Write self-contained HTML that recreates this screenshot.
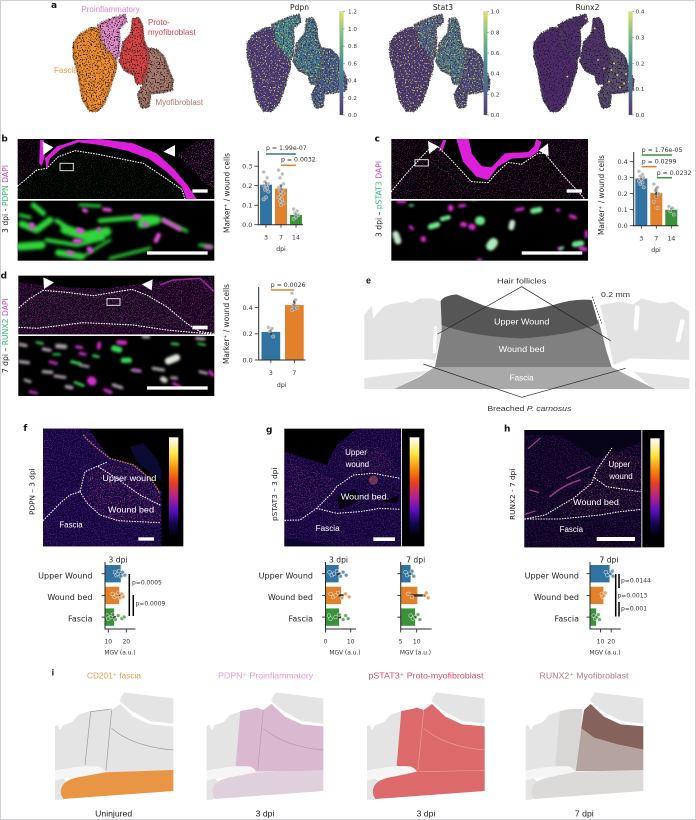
<!DOCTYPE html>
<html lang="en">
<head>
<meta charset="utf-8">
<title>Wound fibroblast figure</title>
<style>
html,body{margin:0;padding:0;background:#fff;width:696px;height:820px;overflow:hidden}
svg{display:block}
text{font-family:"DejaVu Sans","Liberation Sans",sans-serif;fill:#333}
.lib text,text.lib{font-family:"Liberation Sans",sans-serif}
.wl{fill:none;stroke:#fff;stroke-linecap:round}
</style>
</head>
<body>
<svg id="figure" xmlns="http://www.w3.org/2000/svg" width="696" height="820" viewBox="0 0 696 820">
<defs>
<path id="cProinf" d="M295 75L340 55L375 45L378 65L355 85L358 120L355 165L345 182L325 165L305 130L300 90Z"/>
<path id="cFascia" d="M275 85L297 85L300 115L302 130L332 165L347 185L347 205L337 235L327 270L312 310L292 332L270 332L250 300L240 250L235 215L222 170L222 130L240 105Z"/>
<path id="cMyo" d="M440 145L470 150L490 170L505 210L517 240L515 270L490 275L450 280L445 320L425 322L415 285L430 255L440 210L445 170Z"/>
<path id="cProto" d="M400 58L415 55L425 75L430 120L440 145L445 170L440 210L425 250L410 250L405 225L375 210L360 185L370 130L395 100Z"/>
<linearGradient id="viridis" x1="0" y1="1" x2="0" y2="0">
<stop offset="0" stop-color="#54386f"/><stop offset=".25" stop-color="#4f6a8f"/><stop offset=".5" stop-color="#3f8f95"/><stop offset=".75" stop-color="#6cbf80"/><stop offset="1" stop-color="#e8e05c"/>
</linearGradient>
<linearGradient id="hot" x1="0" y1="1" x2="0" y2="0">
<stop offset="0" stop-color="#000"/><stop offset=".14" stop-color="#14064f"/><stop offset=".27" stop-color="#5a0fc0"/><stop offset=".4" stop-color="#b0208f"/><stop offset=".55" stop-color="#e8401f"/><stop offset=".68" stop-color="#f88a0a"/><stop offset=".83" stop-color="#fde640"/><stop offset="1" stop-color="#fff"/>
</linearGradient>
<filter id="umapDots" x="-5%" y="-5%" width="110%" height="110%" color-interpolation-filters="sRGB">
<feTurbulence type="fractalNoise" baseFrequency=".26" numOctaves="1" seed="4" result="n"/>
<feDisplacementMap in="SourceGraphic" in2="n" scale="7" result="rough"/>
<feColorMatrix in="n" type="matrix" values="0 0 0 0 .12 0 0 0 0 .1 0 0 0 0 .1 12 0 0 0 -6.6" result="d"/>
<feComposite in="d" in2="rough" operator="in" result="dd"/>
<feMerge><feMergeNode in="rough"/><feMergeNode in="dd"/></feMerge>
</filter>
<filter id="umapExpr" x="-5%" y="-5%" width="110%" height="110%" color-interpolation-filters="sRGB">
<feTurbulence type="fractalNoise" baseFrequency=".26" numOctaves="1" seed="9" result="n"/>
<feDisplacementMap in="SourceGraphic" in2="n" scale="7" result="rough"/>
<feColorMatrix in="n" type="matrix" values="0 0 0 0 .22 0 0 0 0 .18 0 0 0 0 .34 12 0 0 0 -6.2" result="d"/>
<feComposite in="d" in2="rough" operator="in" result="dd"/>
<feColorMatrix in="n" type="matrix" values="0 0 0 0 .9 0 0 0 0 .85 0 0 0 0 .35 0 14 0 0 -8.6" result="y"/>
<feComposite in="y" in2="rough" operator="in" result="yy"/>
<feMerge><feMergeNode in="rough"/><feMergeNode in="dd"/><feMergeNode in="yy"/></feMerge>
</filter>
<filter id="spMagenta" x="0" y="0" width="100%" height="100%" color-interpolation-filters="sRGB">
<feTurbulence type="fractalNoise" baseFrequency=".3" numOctaves="2" seed="2"/>
<feColorMatrix type="matrix" values="0 0 0 0 .72 0 0 0 0 .16 0 0 0 0 .72 9 0 0 0 -5"/>
</filter>
<filter id="spGreen" x="0" y="0" width="100%" height="100%" color-interpolation-filters="sRGB">
<feTurbulence type="fractalNoise" baseFrequency=".33" numOctaves="2" seed="6"/>
<feColorMatrix type="matrix" values="0 0 0 0 .2 0 0 0 0 .62 0 0 0 0 .3 9 0 0 0 -5.2"/>
</filter>
<filter id="spPurple" x="0" y="0" width="100%" height="100%" color-interpolation-filters="sRGB">
<feTurbulence type="fractalNoise" baseFrequency=".28" numOctaves="2" seed="11"/>
<feColorMatrix type="matrix" values="0 0 0 0 .48 0 0 0 0 .12 0 0 0 0 .72 8 0 0 0 -4.1"/>
</filter>
<filter id="spHot" x="0" y="0" width="100%" height="100%" color-interpolation-filters="sRGB">
<feTurbulence type="fractalNoise" baseFrequency=".3" numOctaves="2" seed="17"/>
<feColorMatrix type="matrix" values="0 0 0 0 .92 0 0 0 0 .36 0 0 0 0 .42 9 0 0 0 -5.6"/>
</filter>
<filter id="blur5" x="-10%" y="-10%" width="120%" height="120%"><feGaussianBlur stdDeviation="5"/></filter>
<filter id="blur4" x="-10%" y="-10%" width="120%" height="120%"><feGaussianBlur stdDeviation="4"/></filter>
<clipPath id="clipB"><rect x="53" y="27" width="590" height="180"/></clipPath>
<clipPath id="clipBL"><rect x="53" y="212" width="590" height="180"/></clipPath>
<clipPath id="clipC"><rect x="130" y="27" width="590" height="180"/></clipPath>
<clipPath id="clipCL"><rect x="130" y="212" width="590" height="180"/></clipPath>
<clipPath id="clipD"><rect x="55" y="32" width="588" height="176"/></clipPath>
<clipPath id="clipDL"><rect x="55" y="213" width="588" height="180"/></clipPath>
<clipPath id="clipBTissue"><path d="M53 168L75 150L110 120L140 115L175 80L225 62L290 72L380 90L430 100L490 140L545 178L555 207L53 207Z"/></clipPath>
<clipPath id="clipBCorner"><path d="M530 75L590 35L643 27L643 180L600 150L555 100Z"/></clipPath>
<clipPath id="clipBLeft"><path d="M53 27L122 27L128 100L115 115L53 165Z"/></clipPath>
<clipPath id="clipDTissue"><path d="M55 50L130 62L300 72L470 50L640 35L643 208L55 208Z"/></clipPath>
<clipPath id="clipDWound"><path d="M57 128L90 100L130 76L200 82L280 92L395 73L440 90L500 125L560 175L600 200L400 180L250 173L110 190L57 187Z"/></clipPath>
</defs>

<rect x="0" y="0" width="696" height="820" fill="#fff"/>
<rect x=".5" y=".5" width="695" height="819" fill="none" stroke="#cfd0d8" stroke-width="1"/>

<!-- PANEL A -->
<g>
<text x="51" y="8" font-size="9" font-weight="700" style="fill:#111">a</text>
<g transform="scale(.33333)" filter="url(#umapDots)" stroke-dasharray="0 7" stroke-width="9" stroke-linecap="round">
<use href="#cProinf" fill="#df8cc8" stroke="#c878b0"/>
<use href="#cFascia" fill="#f28f2d" stroke="#c87a30"/>
<use href="#cMyo" fill="#a97a6e" stroke="#8a6458"/>
<use href="#cProto" fill="#dc4444" stroke="#b84444"/>
</g>
<g class="lib" font-size="8">
<text x="110.5" y="12" text-anchor="middle" style="fill:#e283d2" font-size="8">Proinflammatory</text>
<text x="148" y="25" style="fill:#d9434a" font-size="8">Proto-</text>
<text x="148" y="35" style="fill:#d9434a" font-size="8">myofibroblast</text>
<text x="54" y="73" style="fill:#f0973c" font-size="8">Fascia</text>
<text x="155.5" y="105" style="fill:#ac7668" font-size="8">Myofibroblast</text>
</g>
<g transform="translate(174,0) scale(.33333)" filter="url(#umapExpr)" stroke-dasharray="0 7" stroke-width="9" stroke-linecap="round">
<use href="#cProinf" fill="#3f8f95" stroke="#4a6a80"/>
<use href="#cFascia" fill="#4e3a7d" stroke="#4a4a70"/>
<use href="#cMyo" fill="#43608e" stroke="#4a5a78"/>
<use href="#cProto" fill="#3f7a92" stroke="#4a6478"/>
</g>
<g transform="translate(316.7,0) scale(.33333)" filter="url(#umapExpr)" stroke-dasharray="0 7" stroke-width="9" stroke-linecap="round">
<use href="#cProinf" fill="#4f6a8c" stroke="#555a70"/>
<use href="#cFascia" fill="#4d3a74" stroke="#4a4068"/>
<use href="#cMyo" fill="#4c4e80" stroke="#4a4a68"/>
<use href="#cProto" fill="#4c7a8c" stroke="#556a78"/>
</g>
<g transform="translate(460.7,0) scale(.33333)" filter="url(#umapDots)" stroke-dasharray="0 7" stroke-width="9" stroke-linecap="round">
<use href="#cProinf" fill="#4e2f6e" stroke="#4a3a64"/>
<use href="#cFascia" fill="#4f2a6f" stroke="#4a3a64"/>
<use href="#cMyo" fill="#5a4f70" stroke="#4e4664"/>
<use href="#cProto" fill="#50356f" stroke="#4a3a64"/>
</g>
<g transform="translate(460.7,0) scale(.33333)" fill="#d8c95a">
<circle cx="452" cy="210" r="3"/><circle cx="470" cy="225" r="3"/><circle cx="490" cy="250" r="3"/><circle cx="445" cy="245" r="3"/><circle cx="478" cy="262" r="3"/><circle cx="430" cy="205" r="3"/><circle cx="505" cy="245" r="3"/><circle cx="412" cy="180" r="3"/><circle cx="402" cy="85" r="3"/><circle cx="375" cy="55" r="3"/><circle cx="320" cy="230" r="3"/><circle cx="460" cy="190" r="3"/><circle cx="496" cy="222" r="3"/>
</g>
<text x="299.5" y="10" text-anchor="middle" font-size="7.6" style="fill:#222">Pdpn</text>
<text x="443" y="10" text-anchor="middle" font-size="7.6" style="fill:#222">Stat3</text>
<text x="587.5" y="10" text-anchor="middle" font-size="7.6" style="fill:#222">Runx2</text>
<g id="colorbars"></g>
</g>

<!-- PANEL B -->
<g transform="translate(0,130) scale(.33333)">
<rect x="53" y="27" width="590" height="180" fill="#000"/>
<g clip-path="url(#clipB)">
<g clip-path="url(#clipBTissue)"><rect x="53" y="27" width="590" height="180" filter="url(#spGreen)" opacity=".32"/></g>
<g clip-path="url(#clipBCorner)"><rect x="53" y="27" width="590" height="180" filter="url(#spMagenta)" opacity=".8"/></g>
<g clip-path="url(#clipBLeft)"><rect x="53" y="27" width="590" height="180" filter="url(#spMagenta)" opacity=".38"/></g>
<path fill="#dd1fdd" d="M140 120L150 85L185 55L235 37L300 45L380 62L445 85L500 125L545 170L560 207L590 207L562 165L520 115L470 70L400 40L300 27L230 30L170 50L135 85Z"/>
<path fill="#dd1fdd" d="M120 30L132 30L134 80L125 108L118 100Z"/>
</g>
<path class="wl" stroke-width="3.4" stroke-dasharray="2 6" d="M53 168L75 150L110 120L140 115L175 80L225 62L290 72L380 90L430 100L490 140L545 178L555 207"/>
<path fill="#fff" d="M128 35L160 52L130 75Z"/>
<path fill="#fff" d="M525 45L490 65L525 80Z"/>
<rect x="180" y="100" width="40" height="22" fill="none" stroke="#ddd" stroke-width="3"/>
<rect x="577" y="178" width="46" height="10" fill="#fff"/>
<rect x="53" y="212" width="590" height="180" fill="#000"/>
<g clip-path="url(#clipBL)">
<g fill="none" stroke="#2ed63a" stroke-linecap="round" stroke-linejoin="round" filter="url(#blur5)">
<path stroke-width="16" d="M100 225L130 250"/><path stroke-width="10" d="M60 255L90 262"/><path stroke-width="20" d="M65 282L110 300L150 270"/><path stroke-width="28" d="M195 298L255 318L320 305"/><path stroke-width="14" d="M170 272L205 295"/><path stroke-width="14" d="M300 272L380 265L460 262"/><path stroke-width="26" d="M425 282L470 270"/><path stroke-width="10" d="M490 270L560 303"/><path stroke-width="12" d="M140 330L230 345L310 325"/><path stroke-width="24" d="M60 350L125 345"/><path stroke-width="20" d="M175 368L245 380"/><path stroke-width="9" d="M330 385L450 355"/><path stroke-width="9" d="M240 225L300 228"/><path stroke-width="10" d="M600 345L635 350"/><path stroke-width="8" d="M240 385L330 330"/>
</g>
<g fill="none" stroke="#e04ad8" stroke-linecap="round" filter="url(#blur4)">
<path stroke-width="16" d="M95 285L97 292"/><path stroke-width="16" d="M235 300L245 303"/><path stroke-width="14" d="M405 260L418 260"/><path stroke-width="14" d="M225 333L240 333"/><path stroke-width="16" d="M268 357L272 362"/><path stroke-width="12" d="M432 282L440 285"/><path stroke-width="12" d="M490 270L540 298"/><path stroke-width="12" d="M296 298L298 299"/><path stroke-width="14" d="M476 315L468 332"/><path stroke-width="12" d="M252 240L258 243"/><path stroke-width="11" d="M312 238L330 240"/><path stroke-width="11" d="M618 350L632 352"/><path stroke-width="11" d="M205 367L218 370"/>
</g>
</g>
<rect x="441" y="364" width="182" height="10" fill="#fff"/>
<text transform="translate(24,207) rotate(-90)" text-anchor="middle" font-size="23" style="fill:#222">3 dpi - <tspan style="fill:#2fbf6a">PDPN</tspan> <tspan style="fill:#c04fc8">DAPI</tspan></text>
<text x="4" y="35" font-size="27" font-weight="700" style="fill:#111">b</text>
</g>

<!-- PANEL C -->
<g transform="translate(348,130) scale(.33333)">
<rect x="130" y="27" width="590" height="180" fill="#000"/>
<g clip-path="url(#clipC)">
<rect x="130" y="27" width="590" height="180" filter="url(#spMagenta)" opacity=".5"/>
<path fill="#000" d="M280 27L300 90L370 155L420 158L445 130L480 97L520 103L570 70L578 27Z"/>
<path fill="#dd1fdd" d="M325 27L362 27L372 72L400 108L430 112L470 70L540 66L558 50L565 27L580 36L570 65L545 82L490 86L450 110L420 150L385 140L345 95Z"/>
<path fill="#dd1fdd" d="M285 30L295 30L285 58L272 65Z"/>
<path fill="none" stroke="#2d9a40" stroke-width="2" stroke-dasharray="3 9" d="M240 90L300 130L340 170L400 180"/>
</g>
<path class="wl" stroke-width="3.4" stroke-dasharray="2 6" d="M130 185L180 125L240 60L270 50L310 90L370 155L420 158L445 130L480 97L520 103L570 70L590 70L640 130L700 195L710 207"/>
<path fill="#fff" d="M240 33L272 50L243 72Z"/>
<path fill="#fff" d="M600 40L572 62L602 78Z"/>
<rect x="201" y="89" width="40" height="19" fill="none" stroke="#ddd" stroke-width="3"/>
<rect x="656" y="178" width="46" height="10" fill="#fff"/>
<rect x="130" y="212" width="590" height="180" fill="#000"/>
<g clip-path="url(#clipCL)">
<g fill="none" stroke="#e02fd4" stroke-linecap="round" filter="url(#blur4)">
<path stroke-width="16" d="M308 232L308 236"/><path stroke-width="9" d="M335 228L350 226"/><path stroke-width="14" d="M343 283L350 284"/><path stroke-width="18" d="M370 290L374 291"/><path stroke-width="15" d="M226 326L226 329"/><path stroke-width="9" d="M187 290L193 296"/><path stroke-width="9" d="M628 240L632 240"/><path stroke-width="10" d="M668 258L682 263"/><path stroke-width="12" d="M698 355L712 358"/><path stroke-width="9" d="M715 305L715 320"/><path stroke-width="9" d="M392 390L398 390"/><path stroke-width="9" d="M505 240L525 236"/><path stroke-width="8" d="M632 355L640 357"/><path stroke-width="9" d="M150 215L170 215"/>
</g>
<g fill="none" stroke="#6fe88f" stroke-linecap="round" filter="url(#blur4)">
<path stroke-width="17" d="M555 243L575 239"/><path stroke-width="13" d="M282 267L302 262"/><path stroke-width="17" d="M248 290L268 284"/><path stroke-width="26" d="M394 272L398 272"/><path stroke-width="17" d="M493 278L490 292" stroke="#cfe8d0"/><path stroke-width="20" d="M143 313L150 333" stroke="#c5e8cc"/><path stroke-width="28" d="M436 338L428 348" stroke="#a8f0b8"/><path stroke-width="17" d="M680 343L700 340"/><path stroke-width="6" d="M185 226L195 226"/><path stroke-width="7" d="M370 207L385 207"/><path stroke-width="7" d="M635 357L645 352"/>
</g>
</g>
<rect x="521" y="364" width="182" height="10" fill="#fff"/>
<text transform="translate(101,207) rotate(-90)" text-anchor="middle" font-size="23" style="fill:#222">3 dpi – <tspan style="fill:#2fbf6a">pSTAT3</tspan> <tspan style="fill:#c04fc8">DAPI</tspan></text>
<text x="80" y="35" font-size="27" font-weight="700" style="fill:#111">c</text>
</g>

<!-- PANEL D -->
<g transform="translate(0,265) scale(.33333)">
<rect x="55" y="32" width="588" height="176" fill="#000"/>
<g clip-path="url(#clipD)">
<g clip-path="url(#clipDTissue)"><rect x="55" y="32" width="588" height="176" fill="#14051a"/><rect x="55" y="32" width="588" height="176" filter="url(#spMagenta)" opacity=".62"/></g>
<g clip-path="url(#clipDWound)"><rect x="55" y="32" width="588" height="176" filter="url(#spGreen)" opacity=".35"/></g>
<path fill="none" stroke="#c72fc7" stroke-width="5" d="M480 60L520 45L600 40L643 80" opacity=".7"/>
</g>
<path class="wl" stroke-width="3.4" stroke-dasharray="2 6" d="M57 128L90 100L130 76L200 82L280 92L395 73L440 90L500 125L560 175L600 200L640 205"/>
<path class="wl" stroke-width="3.4" stroke-dasharray="2 6" d="M57 187L110 190L250 173L400 180L500 195L640 208"/>
<path fill="#fff" d="M130 37L162 52L132 72Z"/>
<path fill="#fff" d="M458 43L425 58L455 76Z"/>
<rect x="321" y="101" width="39" height="20" fill="none" stroke="#ddd" stroke-width="3"/>
<rect x="577" y="182" width="46" height="11" fill="#fff"/>
<rect x="55" y="213" width="588" height="180" fill="#000"/>
<g clip-path="url(#clipDL)">
<g fill="none" stroke="#a89aa8" stroke-linecap="round" filter="url(#blur4)">
<path stroke-width="10" d="M60 238L78 242"/><path stroke-width="14" d="M172 243L195 245"/><path stroke-width="10" d="M130 252L150 256"/><path stroke-width="10" d="M60 290L85 293"/><path stroke-width="9" d="M165 333L195 337"/><path stroke-width="10" d="M130 320L155 322"/><path stroke-width="8" d="M240 300L265 305"/><path stroke-width="11" d="M200 365L215 368"/><path stroke-width="10" d="M340 360L365 368"/><path stroke-width="10" d="M460 310L490 315"/><path stroke-width="21" d="M505 288L530 278" stroke="#e0e6dc"/><path stroke-width="16" d="M488 342L495 346" stroke="#d0d0c8"/><path stroke-width="9" d="M515 338L530 340"/><path stroke-width="9" d="M590 220L612 222"/><path stroke-width="9" d="M600 320L620 325"/><path stroke-width="10" d="M430 215L445 216"/><path stroke-width="9" d="M75 345L90 350"/>
</g>
<g fill="none" stroke="#36d85a" stroke-linecap="round" filter="url(#blur4)">
<path stroke-width="18" d="M342 250L358 254"/><path stroke-width="16" d="M370 286L388 286"/><path stroke-width="9" d="M215 290L240 296"/><path stroke-width="8" d="M280 272L295 275"/><path stroke-width="8" d="M225 352L250 362"/><path stroke-width="7" d="M515 236L535 238"/><path stroke-width="7" d="M395 315L420 318"/><path stroke-width="6" d="M595 236L615 240"/><path stroke-width="7" d="M110 232L128 236"/><path stroke-width="6" d="M160 268L180 268"/>
</g>
<g fill="none" stroke="#d42ecb" stroke-linecap="round" filter="url(#blur4)">
<path stroke-width="26" d="M274 347L277 349"/><path stroke-width="13" d="M355 232L375 233"/><path stroke-width="11" d="M298 235L296 248"/><path stroke-width="9" d="M230 245L245 248"/><path stroke-width="9" d="M240 265L255 268"/><path stroke-width="10" d="M315 375L332 382"/><path stroke-width="8" d="M400 315L420 318"/><path stroke-width="10" d="M630 320L638 330"/><path stroke-width="8" d="M520 355L540 365"/><path stroke-width="8" d="M150 290L170 296"/><path stroke-width="8" d="M90 380L110 384"/>
</g>
</g>
<rect x="441" y="364" width="182" height="10" fill="#fff"/>
<text transform="translate(24,212) rotate(-90)" text-anchor="middle" font-size="23" style="fill:#222">7 dpi – <tspan style="fill:#2fbf6a">RUNX2</tspan> <tspan style="fill:#c04fc8">DAPI</tspan></text>
<text x="2" y="40" font-size="27" font-weight="700" style="fill:#111">d</text>
</g>

<!-- PANEL E -->
<g class="lib" transform="translate(340,265) scale(.33333)">
<path fill="#e3e3e3" d="M73 285L73 150L95 122L100 160L130 125L150 118L200 108L215 115L240 100L275 100L305 110L305 200L285 285L240 282Z"/>
<path fill="#e3e3e3" d="M780 120L840 110L880 118L905 100L960 115L1000 110L1048 140L1048 285L870 280L820 300L800 200Z"/>
<path fill="none" stroke="#fff" stroke-linecap="round" d="M287 188L283 260" stroke-width="10"/>
<path fill="none" stroke="#fff" stroke-linecap="round" d="M892 128L888 190" stroke-width="14"/>
<path fill="none" stroke="#fff" stroke-linecap="round" d="M1027 170L1014 225" stroke-width="14"/>
<path fill="none" stroke="#fff" stroke-linecap="round" d="M795 215L815 295" stroke-width="9"/>
<path fill="#e3e3e3" d="M73 340Q180 322 265 318L165 372L73 372ZM1048 340Q950 328 880 320L940 372L1048 372Z"/>
<path fill="#a9a9a9" d="M285 306L815 306L860 330L945 372L163 372L240 335Z"/>
<path fill="#808080" d="M305 170L305 200L285 306L815 306L800 260L775 165Z"/>
<path fill="#565656" d="M302 108Q310 92 350 88Q390 105 440 125Q530 150 640 120Q700 100 755 105L775 175Q700 210 545 220Q400 215 305 180Z"/>
<g fill="none" stroke="#222" stroke-width="2">
<path d="M293 207L545 65L812 227"/>
<path d="M250 297L545 397L857 310"/>
<path stroke-dasharray="5 4" d="M757 95L785 175"/>
</g>
<text x="545" y="56" text-anchor="middle" font-size="23" textLength="148" lengthAdjust="spacingAndGlyphs">Hair follicles</text>
<text x="783" y="96" font-size="23" textLength="87" lengthAdjust="spacingAndGlyphs">0.2 mm</text>
<text x="545" y="178" text-anchor="middle" font-size="25" style="fill:#fff" textLength="166" lengthAdjust="spacingAndGlyphs">Upper Wound</text>
<text x="545" y="261" text-anchor="middle" font-size="25" style="fill:#fff" textLength="138" lengthAdjust="spacingAndGlyphs">Wound bed</text>
<text x="545" y="347" text-anchor="middle" font-size="25" style="fill:#fff" textLength="72" lengthAdjust="spacingAndGlyphs">Fascia</text>
<text x="568" y="438" text-anchor="middle" font-size="23" textLength="252" lengthAdjust="spacingAndGlyphs">Breached <tspan font-style="italic">P. carnosus</tspan></text>
<text x="78" y="56" font-size="27" font-weight="700" style="fill:#111">e</text>
</g>

<!-- PANEL F IMAGE -->
<g transform="translate(0,415) scale(.33333)">
<rect x="129" y="41" width="421" height="353" fill="#000"/>
<svg x="129" y="41" width="356" height="353" viewBox="129 41 356 353" overflow="hidden">
<path fill="#0d0634" d="M129 41L265 41L330 130L410 150L485 230L485 394L129 394Z"/>
<path fill="#0b0a32" d="M390 95L430 85L470 130L485 170L485 200L410 140Z"/>
<g clip-path="url(#clipFTissue)"><rect x="129" y="41" width="356" height="353" filter="url(#spPurple)" opacity=".58"/></g>
<g clip-path="url(#clipFHot)"><rect x="129" y="41" width="356" height="353" filter="url(#spHot)" opacity=".75"/></g>
<path fill="none" stroke="#f08a6a" stroke-width="4" stroke-dasharray="5 3" d="M250 60Q270 85 330 130L400 150L455 195L480 235" opacity=".85"/>
</svg>
<clipPath id="clipFTissue"><path d="M129 41L265 41L330 130L410 150L485 230L485 394L129 394Z"/></clipPath>
<clipPath id="clipFHot"><path d="M260 180L320 142L420 165L485 240L485 330L350 325L262 270Z"/></clipPath>
<path class="wl" stroke-width="3.2" stroke-dasharray="2 6" d="M130 316L185 260L210 240L240 230L255 170L320 142"/>
<path class="wl" stroke-width="3.2" stroke-dasharray="2 6" d="M240 230L262 265L300 300L355 317L480 323"/>
<path class="wl" stroke-width="3.2" stroke-dasharray="2 6" d="M295 155L350 190L420 240L480 270"/>
<rect x="507" y="67" width="28" height="300" fill="url(#hot)"/>
<rect x="415" y="367" width="47" height="10" fill="#fff"/>
<g class="lib">
<text x="388" y="198" text-anchor="middle" font-size="24" style="fill:#fff" textLength="162" lengthAdjust="spacingAndGlyphs">Upper wound</text>
<text x="393" y="293" text-anchor="middle" font-size="24" style="fill:#fff" textLength="138" lengthAdjust="spacingAndGlyphs">Wound bed</text>
<text x="213" y="337" text-anchor="middle" font-size="24" style="fill:#fff" textLength="70" lengthAdjust="spacingAndGlyphs">Fascia</text>
</g>
<text transform="translate(104,230) rotate(-90)" text-anchor="middle" font-size="22" style="fill:#222">PDPN – 3 dpi</text>
<text x="70" y="48" font-size="27" font-weight="700" style="fill:#111">f</text>
</g>

<!-- PANEL G IMAGE -->
<g transform="translate(240,415) scale(.33333)">
<rect x="133" y="41" width="420" height="353" fill="#000"/>
<svg x="133" y="41" width="351" height="353" viewBox="133 41 351 353" overflow="hidden">
<path fill="#0c0530" d="M133 110L260 150L290 90L350 41L484 41L484 394L133 394Z"/>
<clipPath id="clipGTissue"><path d="M133 110L260 150L290 90L350 41L484 41L484 394L300 394L133 370Z"/></clipPath>
<g clip-path="url(#clipGTissue)"><rect x="133" y="41" width="351" height="353" filter="url(#spPurple)" opacity=".55"/></g>
<clipPath id="clipGHot"><path d="M150 130L280 190L280 240L230 280L133 300ZM300 90L440 100L470 180L340 170Z"/></clipPath>
<g clip-path="url(#clipGHot)"><rect x="133" y="41" width="351" height="353" filter="url(#spHot)" opacity=".55"/></g>
<path fill="#000" d="M290 245L340 225L370 250L300 285ZM420 260L480 240L470 265Z" opacity=".7"/>
<circle cx="400" cy="195" r="14" fill="#e87a6a" opacity=".4"/>
</svg>
<path class="wl" stroke-width="3.2" stroke-dasharray="2 6" d="M135 316L180 315L230 280L275 235L290 215L340 180L400 175L480 190"/>
<path class="wl" stroke-width="3.2" stroke-dasharray="2 6" d="M230 280L290 295L360 290L420 280L480 283"/>
<rect x="483" y="41" width="3" height="353" fill="#ddd"/>
<rect x="509" y="67" width="29" height="300" fill="url(#hot)"/>
<rect x="400" y="367" width="65" height="11" fill="#fff"/>
<g class="lib">
<text x="348" y="120" text-anchor="middle" font-size="24" style="fill:#fff">Upper</text>
<text x="352" y="156" text-anchor="middle" font-size="24" style="fill:#fff">wound</text>
<text x="375" y="253" text-anchor="middle" font-size="24" style="fill:#fff" textLength="145" lengthAdjust="spacingAndGlyphs">Wound bed.</text>
<text x="263" y="348" text-anchor="middle" font-size="24" style="fill:#fff" textLength="72" lengthAdjust="spacingAndGlyphs">Fascia</text>
</g>
<text transform="translate(111,238) rotate(-90)" text-anchor="middle" font-size="22" style="fill:#222">pSTAT3 – 3 dpi</text>
<text x="78" y="52" font-size="27" font-weight="700" style="fill:#111">g</text>
</g>

<!-- PANEL H IMAGE -->
<g transform="translate(460,415) scale(.33333)">
<rect x="193" y="45" width="420" height="352" fill="#000"/>
<svg x="193" y="45" width="352" height="352" viewBox="193 45 352 352" overflow="hidden">
<rect x="193" y="45" width="352" height="352" fill="#070318"/>
<clipPath id="clipHTissue"><path d="M193 60L300 60L410 130L545 80L545 397L193 397Z"/></clipPath>
<g clip-path="url(#clipHTissue)"><rect x="193" y="45" width="352" height="352" filter="url(#spPurple)" opacity=".42"/></g>
<clipPath id="clipHHot"><path d="M410 165L455 100L545 130L545 283L300 305L340 250Z"/></clipPath>
<g clip-path="url(#clipHHot)"><rect x="193" y="45" width="352" height="352" filter="url(#spHot)" opacity=".65"/></g>
<g fill="none" stroke="#c04fa8" stroke-linecap="round" opacity=".75">
<path stroke-width="5" d="M270 245Q310 210 360 195"/><path stroke-width="4" d="M320 190L390 155"/><path stroke-width="4" stroke="#e05a70" d="M210 225L235 232"/><path stroke-width="4" d="M205 100L240 70"/><path stroke-width="4" d="M195 298L225 288"/>
</g>
</svg>
<path class="wl" stroke-width="3.2" stroke-dasharray="2 6" d="M195 312L255 300L340 250L395 205L410 165L455 100"/>
<path class="wl" stroke-width="3.2" stroke-dasharray="2 6" d="M405 190L440 215L540 230"/>
<path class="wl" stroke-width="3.2" stroke-dasharray="2 6" d="M195 312L300 312L420 300L480 290L545 283"/>
<rect x="544" y="45" width="3" height="352" fill="#ddd"/>
<rect x="571" y="70" width="28" height="297" fill="url(#hot)"/>
<rect x="410" y="366" width="115" height="12" fill="#fff"/>
<g class="lib">
<text x="478" y="156" text-anchor="middle" font-size="24" style="fill:#fff">Upper</text>
<text x="483" y="192" text-anchor="middle" font-size="24" style="fill:#fff">wound</text>
<text x="408" y="270" text-anchor="middle" font-size="24" style="fill:#fff" textLength="137" lengthAdjust="spacingAndGlyphs">Wound bed</text>
<text x="334" y="351" text-anchor="middle" font-size="24" style="fill:#fff" textLength="70" lengthAdjust="spacingAndGlyphs">Fascia</text>
</g>
<text transform="translate(165,238) rotate(-90)" text-anchor="middle" font-size="22" style="fill:#222">RUNX2 - 7 dpi</text>
<text x="132" y="50" font-size="27" font-weight="700" style="fill:#111">h</text>
</g>

<!-- CHARTS -->
<g id="charts"></g>

<!-- PANEL I -->
<g class="lib" transform="translate(0,635) scale(.33333)">
<text x="155" y="122" font-size="27" font-weight="700" style="fill:#111">i</text>

<g>
<path fill="#e4e4e4" d="M165 408L165 275L172 268L180 285L190 270L215 262L235 240L270 228L300 225L335 225L360 207L400 245L450 268L520 274L520 410L315 412L315 410Z"/>
<path fill="#e4e4e4" d="M358 197L372 172L520 190L520 266L450 258L395 228L367 205Z"/>
<path fill="#f5f5f5" d="M165 407Q240 390 295 394Q310 400 315 410L305 420L250 425L190 430L165 437Z"/>
<path fill="#e4e4e4" d="M165 437L190 430L200 440L185 494L165 495Z"/>
<path fill="#e89545" d="M190 492Q175 470 190 448Q205 430 250 424L315 412L520 405L520 468Z"/>
<path fill="none" stroke="#999" stroke-width="2" d="M272 230L255 390M335 225L318 405M272 230L335 222M335 280Q400 335 520 345"/>
<text x="342" y="130" text-anchor="middle" font-size="26" style="fill:#ea9a4e" textLength="162" lengthAdjust="spacingAndGlyphs">CD201⁺ fascia</text>
<text x="341" y="545" text-anchor="middle" font-size="26" style="fill:#222">Uninjured</text>
</g>

<g transform="translate(455,0)">
<path fill="#e4e4e4" d="M165 408L165 275L172 268L180 285L190 270L215 262L235 240L270 228L270 400Z"/>
<path fill="#e4e4e4" d="M358 197L372 172L515 190L515 266L450 258L395 228L367 205Z"/>
<path fill="#d9b8d0" d="M266 228L300 222L315 218L335 225L360 207L400 245L450 268L515 274L515 408L310 410L252 392Z"/>
<path fill="#f5f5f5" d="M165 407Q240 390 295 394Q310 400 312 410L305 420L250 425L190 430L165 437Z"/>
<path fill="#e4e4e4" d="M165 437L190 430L200 440L185 494L165 495Z"/>
<path fill="#dfd0dc" d="M190 492Q175 470 190 448Q205 430 250 424L315 412L515 405L515 468Z"/>
<path fill="none" stroke="#b79ab0" stroke-width="2" d="M335 225L318 405M335 280Q400 335 515 345"/>
<text x="342" y="130" text-anchor="middle" font-size="26" style="fill:#e59ad2" textLength="285" lengthAdjust="spacingAndGlyphs">PDPN⁺ Proinflammatory</text>
<text x="340" y="545" text-anchor="middle" font-size="26" style="fill:#222">3 dpi</text>
</g>

<g transform="translate(936,0)">
<path fill="#e4e4e4" d="M165 408L165 275L172 268L180 285L190 270L215 262L235 240L270 228L270 400Z"/>
<path fill="#e4e4e4" d="M358 197L372 172L518 190L518 266L450 258L395 228L367 205Z"/>
<path fill="#dc6a6a" d="M268 228L300 222L315 218L335 225L360 207L400 245L450 268L518 274L518 408L310 410L254 392Z"/>
<path fill="#f5f5f5" d="M165 407Q240 390 295 394Q310 400 315 410L305 420L250 425L190 430L165 437Z"/>
<path fill="#e4e4e4" d="M165 437L190 430L200 440L185 494L165 495Z"/>
<path fill="#dc6a6a" d="M190 492Q175 470 190 448Q205 430 250 424L315 410L518 405L518 468Z"/>
<path fill="none" stroke="#e8a0a0" stroke-width="2" d="M335 225L318 405M335 280Q400 335 518 345M320 410L518 406"/>
<text x="342" y="130" text-anchor="middle" font-size="26" style="fill:#d9505a" textLength="345" lengthAdjust="spacingAndGlyphs">pSTAT3⁺ Proto-myofibroblast</text>
<text x="342" y="545" text-anchor="middle" font-size="26" style="fill:#222">3 dpi</text>
</g>

<g transform="translate(1412,0)">
<path fill="#e4e4e4" d="M165 408L165 275L172 268L180 285L190 270L215 262L235 240L270 228L270 400Z"/>
<path fill="#e4e4e4" d="M358 197L372 172L518 190L518 266L450 258L395 228L367 205Z"/>
<path fill="#d9d7d5" d="M268 228L300 222L335 222L332 280L314 408L254 392Z"/>
<path fill="#b5a3a0" d="M332 280L370 308L440 328L518 344L518 408L315 408Z"/>
<path fill="#86625c" d="M332 280L340 225L360 207L400 245L450 268L518 274L518 344L440 328L370 308Z"/>
<path fill="#f5f5f5" d="M165 407Q240 390 295 394Q310 400 315 410L305 420L250 425L190 430L165 437Z"/>
<path fill="#e4e4e4" d="M165 437L190 430L200 440L185 494L165 495Z"/>
<path fill="#dcdad8" d="M190 492Q175 470 190 448Q205 430 250 424L315 410L518 405L518 468Z"/>
<text x="340" y="130" text-anchor="middle" font-size="26" style="fill:#a87e76" textLength="267" lengthAdjust="spacingAndGlyphs">RUNX2⁺ Myofibroblast</text>
<text x="341" y="545" text-anchor="middle" font-size="26" style="fill:#222">7 dpi</text>
</g>
</g>
</svg>

<script>
// ---- Colorbar data ----
const pdpnCbTicks = ['0.0','0.2','0.4','0.6','0.8','1.0','1.2'];
const stat3CbTicks = ['0.0','0.2','0.4','0.6','0.8','1.0'];
const runx2CbTicks = ['0.0','0.1','0.2','0.3','0.4'];

// ---- Panel b data ----
const bDays = ['3','7','14'];
const bMeans = [0.205,0.185,0.05];
const bErrors = [0.015,0.02,0.008];
const bPoints = [
  [0.27,0.24,0.22,0.21,0.2,0.2,0.19,0.18,0.17,0.14,0.13],
  [0.28,0.26,0.24,0.21,0.2,0.19,0.18,0.17,0.16,0.15,0.14,0.13,0.12,0.11,0.1],
  [0.08,0.07,0.06,0.05,0.04,0.03]
];
const bYTicks = ['0.0','0.1','0.2','0.3'];

// ---- Panel c data ----
const cDays = ['3','7','14'];
const cMeans = [0.295,0.205,0.1];
const cErrors = [0.012,0.035,0.012];
const cPoints = [
  [0.34,0.32,0.31,0.3,0.29,0.28,0.27,0.26,0.24],
  [0.26,0.24,0.22,0.2,0.18,0.15,0.11],
  [0.12,0.11,0.09,0.07]
];
const cYTicks = ['0.0','0.1','0.2','0.3','0.4'];

// ---- Panel d data ----
const dDays = ['3','7'];
const dMeans = [0.215,0.42];
const dErrors = [0.02,0.04];
const dPoints = [
  [0.25,0.24,0.22,0.18],
  [0.51,0.46,0.42,0.4,0.39,0.38]
];
const dYTicks = ['0.0','0.2','0.4'];

// ---- Horizontal bar panels ----
const regionNames = ['Upper Wound','Wound bed','Fascia'];
const fMeans = [16.9,16.1,13.2];
const fErrors = [1,1,1];
const fPoints = [
  [13.7,14.5,15.2,16,17,18,19.2],
  [12.4,13.5,14.5,15.5,16.5,17.5,18.3],
  [9.4,10,11.5,12.5,14,15.5,17.5,18.8]
];
const fTicks = ['10','20'];
const g3Means = [5.2,6.2,5.4];
const g3Errors = [0.8,1,0.8];
const g3Points = [
  [1.6,2.5,3.4,4.5,6,7,8.2],
  [2,3,4,5,6.5,8,9.4],
  [1.4,2,4,5.5,7,8,9]
];
const g3Ticks = ['0','10'];
const g7Means = [8.1,10.2,9.5];
const g7Errors = [0.6,2.4,0.6];
const g7Points = [
  [6.5,7,7.8,8.6,9.1],
  [7.4,8.5,12.5,13,13.6],
  [8.1,8.8,9.5,10.4,11]
];
const g7Ticks = ['5','10'];
const hMeans = [18.5,12.7,6];
const hErrors = [1,0.5,0.8];
const hPoints = [
  [15,16.5,19.5,21,21.8],
  [11.2,12,13,14.3],
  [3.6,5,6.5,8,9.1]
];
const hTicks = ['10','20'];

const SVGNS = 'http://www.w3.org/2000/svg';
const palette = ['#3274a1','#e1812c','#3a923a'];
const darkInk = '#2a2a2a';

function mk(parent, tag, attrs, text) {
  const el = document.createElementNS(SVGNS, tag);
  for (const k in attrs) el.setAttribute(k, attrs[k]);
  if (text !== undefined) el.textContent = text;
  parent.appendChild(el);
  return el;
}

function drawColorbar(id, ticks, max, x, top, bottom, labelX) {
  const root = document.getElementById('colorbars');
  const yOf = v => bottom - (v / max) * (bottom - top);
  const bar = mk(root, 'rect', {x: x, y: top, width: 3.6, height: bottom - top, fill: 'url(#viridis)', stroke: '#999', 'stroke-width': .3});
  
  
  ticks.forEach(t => {
    const v = parseFloat(t);
    const mark = mk(root, 'line', {x1: x + 3.6, x2: x + 5.2, y1: yOf(v), y2: yOf(v), stroke: '#555', 'stroke-width': .5});
    
    
    const lab = mk(root, 'text', {x: labelX, y: yOf(v) + 2, 'font-size': 5.6}, t);
    
    
  });
}

function drawVerticalPanel(name, days, means, errors, points, ticks, cfg) {
  const root = mk(document.getElementById('charts'), 'g', {});
  
  
  const yScale = v => cfg.y0 - v * cfg.pxPerUnit;
  const bandX = i => cfg.firstBar + i * cfg.step;
  means.forEach((m, i) => {
    const bar = mk(root, 'rect', {x: bandX(i), y: yScale(m), width: cfg.barWidth, height: yScale(0) - yScale(m), fill: palette[i]});
    
    
    const cx = bandX(i) + cfg.barWidth / 2;
    const err = mk(root, 'line', {x1: cx, x2: cx, y1: yScale(m - errors[i]), y2: yScale(m + errors[i]), stroke: '#333', 'stroke-width': 2});
    
    
    points[i].forEach((p, j) => {
      const dot = mk(root, 'circle', {cx: cx + [-2.4,1.2,-1,2.4,0][j % 5], cy: yScale(p), r: 1.7, fill: 'rgba(150,150,150,.65)', stroke: '#dcdcdc', 'stroke-width': .5});
      
      
    });
    const tk = mk(root, 'line', {x1: cx, x2: cx, y1: cfg.y0, y2: cfg.y0 + 3, stroke: darkInk, 'stroke-width': .8});
    
    
    const lab = mk(root, 'text', {x: cx, y: cfg.y0 + 15, 'text-anchor': 'middle', 'font-size': 6.4}, days[i]);
    
    
  });
  const spine = mk(root, 'path', {d: 'M' + cfg.spineX + ' ' + cfg.top + 'V' + cfg.y0 + 'H' + cfg.right, fill: 'none', stroke: darkInk, 'stroke-width': 1});
  
  
  ticks.forEach(t => {
    const v = parseFloat(t);
    const tk = mk(root, 'line', {x1: cfg.spineX - 4, x2: cfg.spineX, y1: yScale(v), y2: yScale(v), stroke: darkInk, 'stroke-width': .8});
    
    
    const lab = mk(root, 'text', {x: cfg.spineX - 6, y: yScale(v) + 2.3, 'text-anchor': 'end', 'font-size': 6.4}, t);
    
    
  });
  const yTitle = mk(root, 'text', {transform: 'translate(' + cfg.yTitleX + ',' + cfg.yTitleY + ') rotate(-90)', 'text-anchor': 'middle', 'font-size': 7.8, textLength: 80, lengthAdjust: 'spacingAndGlyphs', style: 'fill:#222'}, 'Marker⁺ / wound cells');
  
  
  const xTitle = mk(root, 'text', {x: cfg.xTitleX, y: cfg.xTitleY, 'text-anchor': 'middle', 'font-size': 6.2}, 'dpi');
  
  
  return root;
}

function annotate(root, name, label, x, baseline, x1, x2, lineY, color) {
  const t = mk(root, 'text', {x: x, y: baseline, 'font-size': 6.2}, label);
  
  
  const l = mk(root, 'line', {x1: x1, x2: x2, y1: lineY, y2: lineY, stroke: color, 'stroke-width': 1.5});
  
  
}

function drawHorizontalPanel(name, means, errors, points, ticks, title, cfg) {
  const root = mk(document.getElementById('charts'), 'g', {});
  
  
  const xScale = v => cfg.tickRef + (v - cfg.valueRef) * cfg.pxPerUnit;
  const bandY = i => 565 + i * 21.7;
  const bandH = 17.4;
  means.forEach((m, i) => {
    const bar = mk(root, 'rect', {x: cfg.spineX, y: bandY(i), width: Math.max(0, xScale(m) - cfg.spineX), height: bandH, fill: palette[i]});
    
    
    const cy = bandY(i) + bandH / 2;
    const err = mk(root, 'line', {x1: xScale(m - errors[i]), x2: xScale(m + errors[i]), y1: cy, y2: cy, stroke: '#333', 'stroke-width': 2.4});
    
    
    points[i].forEach((p, j) => {
      const dot = mk(root, 'circle', {cx: xScale(p), cy: cy + [-1.5,1.5,0,-2.5,2.5][j % 5], r: 1.9, fill: palette[i], 'fill-opacity': .75, stroke: '#f2f2f2', 'stroke-width': .5});
      
      
    });
    const tk = mk(root, 'line', {x1: cfg.spineX - 3.4, x2: cfg.spineX, y1: cy, y2: cy, stroke: darkInk, 'stroke-width': .9});
    
    
    if (cfg.labelRight) {
      const lab = mk(root, 'text', {x: cfg.labelRight, y: cy + 4.6, 'text-anchor': 'end', 'font-size': 8, style: 'fill:#222'}, regionNames[i]);
      
      
    }
  });
  const spine = mk(root, 'path', {d: 'M' + cfg.spineX + ' 562V629H' + cfg.right, fill: 'none', stroke: darkInk, 'stroke-width': 1});
  
  
  ticks.forEach(t => {
    const v = parseFloat(t);
    const tk = mk(root, 'line', {x1: xScale(v), x2: xScale(v), y1: 629, y2: 632.5, stroke: darkInk, 'stroke-width': .9});
    
    
    const lab = mk(root, 'text', {x: xScale(v), y: 643.5, 'text-anchor': 'middle', 'font-size': 6}, t);
    
    
  });
  const xTitle = mk(root, 'text', {x: cfg.titleX, y: 654.5, 'text-anchor': 'middle', 'font-size': 5.9}, 'MGV (a.u.)');
  
  
  const head = mk(root, 'text', {x: cfg.headX, y: 562.5, 'text-anchor': 'middle', 'font-size': 7.6, style: 'fill:#222'}, title);
  
  
  return root;
}

function bracket(root, name, x, y1, y2) {
  const l = mk(root, 'line', {x1: x, x2: x, y1: y1, y2: y2, stroke: '#000', 'stroke-width': 1.5});
  
  
}
function pText(root, name, label, x, y) {
  const t = mk(root, 'text', {x: x, y: y, 'font-size': 6}, label);
  
  
}

drawColorbar('pdpn', pdpnCbTicks, 1.2, 339.6, 11.7, 115, 348);
drawColorbar('stat3', stat3CbTicks, 1.0, 483.7, 11.7, 115, 490.5);
drawColorbar('runx2', runx2CbTicks, 0.4, 628.7, 11.7, 115, 635.5);

const chartB = drawVerticalPanel('panel-b', bDays, bMeans, bErrors, bPoints, bYTicks,
  {y0: 224.7, pxPerUnit: 195, firstBar: 260, step: 15, barWidth: 12, spineX: 258.3, top: 151, right: 303, yTitleX: 229.5, yTitleY: 193, xTitleX: 281, xTitleY: 251});
annotate(chartB, 'panel-b-3-vs-14', 'p = 1.99e-07', 266, 150, 266, 296, 154, palette[0]);
annotate(chartB, 'panel-b-7-vs-14', 'p = 0.0032', 281, 161.5, 281, 296, 165.3, palette[1]);

const chartC = drawVerticalPanel('panel-c', cDays, cMeans, cErrors, cPoints, cYTicks,
  {y0: 225.7, pxPerUnit: 160, firstBar: 635.3, step: 15, barWidth: 12, spineX: 633.7, top: 152, right: 678.5, yTitleX: 604, yTitleY: 195, xTitleX: 656, xTitleY: 252});
annotate(chartC, 'panel-c-3-vs-14', 'p = 1.76e-05', 641.7, 152, 641.7, 672, 155, palette[2]);
annotate(chartC, 'panel-c-3-vs-7', 'p = 0.0299', 641.7, 163.5, 641.7, 656.7, 166.7, palette[1]);
annotate(chartC, 'panel-c-7-vs-14', 'p = 0.0232', 656.7, 175, 656.7, 672, 177.7, palette[2]);

const chartD = drawVerticalPanel('panel-d', dDays, dMeans, dErrors, dPoints, dYTicks,
  {y0: 360, pxPerUnit: 130.8, firstBar: 261.5, step: 23.5, barWidth: 18.7, spineX: 258.7, top: 287, right: 305.5, yTitleX: 229, yTitleY: 324, xTitleX: 281.7, xTitleY: 387});
annotate(chartD, 'panel-d-3-vs-7', 'p = 0.0026', 270.7, 287, 270.7, 294, 290, palette[1]);

const chartF = drawHorizontalPanel('panel-f', fMeans, fErrors, fPoints, fTicks, '3 dpi',
  {spineX: 105, tickRef: 108.3, valueRef: 10, pxPerUnit: 1.8, right: 135.5, labelRight: 92.5, titleX: 120, headX: 118});
bracket(chartF, 'panel-f-upper-fascia', 129.3, 574, 616);
bracket(chartF, 'panel-f-bed-fascia', 133.3, 595, 616);
pText(chartF, 'panel-f-upper-fascia', 'p=0.0005', 132, 584.5);
pText(chartF, 'panel-f-bed-fascia', 'p=0.0009', 135.5, 605.5);

drawHorizontalPanel('panel-g-3dpi', g3Means, g3Errors, g3Points, g3Ticks, '3 dpi',
  {spineX: 325.5, tickRef: 325.5, valueRef: 0, pxPerUnit: 2.52, right: 356, labelRight: 313, titleX: 345, headX: 338.5});
drawHorizontalPanel('panel-g-7dpi', g7Means, g7Errors, g7Points, g7Ticks, '7 dpi',
  {spineX: 400.7, tickRef: 400.7, valueRef: 5, pxPerUnit: 3.2, right: 431.7, labelRight: 0, titleX: 415.5, headX: 415.7});

const chartH = drawHorizontalPanel('panel-h', hMeans, hErrors, hPoints, hTicks, '7 dpi',
  {spineX: 590, tickRef: 600.5, valueRef: 10, pxPerUnit: 1.07, right: 620.7, labelRight: 579, titleX: 605, headX: 609});
bracket(chartH, 'panel-h-a', 615.7, 574, 616.5);
bracket(chartH, 'panel-h-b', 619, 574, 588);
bracket(chartH, 'panel-h-c', 619, 602, 616.5);
pText(chartH, 'panel-h-upper-bed', 'p=0.0144', 621, 582.5);
pText(chartH, 'panel-h-upper-fascia', 'p=0.0013', 617.5, 597.5);
pText(chartH, 'panel-h-bed-fascia', 'p=0.001', 621, 610.5);
</script>
</body>
</html>
